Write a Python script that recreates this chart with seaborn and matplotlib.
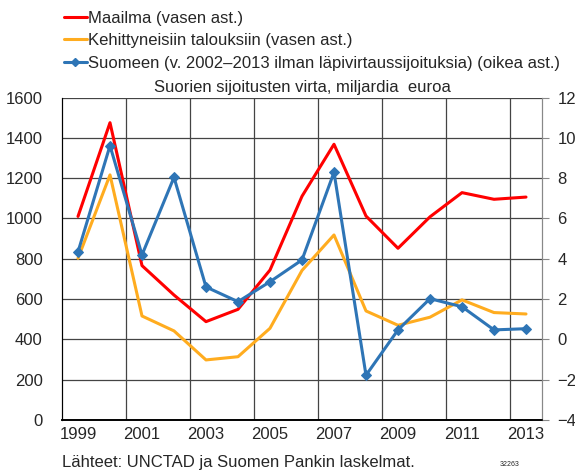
import numpy as np
import pandas as pd
import seaborn as sns
import matplotlib.pyplot as plt
from matplotlib.lines import Line2D

years = list(range(1999, 2014))
maailma = [1010, 1475, 766, 620, 488, 549, 744, 1110, 1368, 1012, 852, 1008, 1128, 1095, 1106]
kehittyneet = [802, 1216, 516, 442, 298, 314, 455, 742, 918, 541, 470, 510, 596, 533, 526]
suomeen = [4.34, 9.61, 4.19, 8.04, 2.60, 1.87, 2.86, 3.94, 8.29, -1.78, 0.47, 2.02, 1.62, 0.47, 0.53]

labels = ["Maailma (vasen ast.)",
          "Kehittyneisiin talouksiin (vasen ast.)",
          "Suomeen (v. 2002\u20132013 ilman läpivirtaussijoituksia) (oikea ast.)"]
colors = ["#ff0000", "#ffac1f", "#2e75b6"]

sns.set_style("white")
plt.rcParams['font.family'] = ['Liberation Sans', 'DejaVu Sans']
plt.rcParams['font.size'] = 12

df = pd.DataFrame({"idx": np.arange(len(years)), "maailma": maailma,
                   "kehittyneet": kehittyneet, "suomeen": suomeen})

fig = plt.figure(figsize=(5.75, 4.74), dpi=100)
ax = fig.add_axes([62/575, 1 - 420/474, 480/575, 322.5/474])
ax2 = ax.twinx()

sns.lineplot(data=df, x="idx", y="maailma", ax=ax, color=colors[0], lw=2.2)
sns.lineplot(data=df, x="idx", y="kehittyneet", ax=ax, color=colors[1], lw=2.2)
sns.lineplot(data=df, x="idx", y="suomeen", ax=ax2, color=colors[2], lw=2.2,
             marker="D", markersize=5, markeredgecolor=colors[2])

ax.set_xlim(-0.5, len(years) - 0.5)
ax.set_ylim(0, 1600)
ax2.set_ylim(-4, 12)
ax.set_yticks(range(0, 1601, 200))
ax2.set_yticks(range(-4, 13, 2))
ax.set_xticks(range(0, len(years), 2))
ax.set_xticklabels([str(y) for y in years[::2]])
ax.set_xticks(np.arange(0.5, len(years) - 1, 2), minor=True)
ax.tick_params(axis="x", which="major", length=0, pad=5, labelsize=12)
ax.tick_params(axis="x", which="minor", direction="in", length=5, color="#555555")
ax.tick_params(axis="y", length=0, pad=14, labelsize=12)
ax2.tick_params(axis="y", length=5, direction="out", color="#888888", pad=6, labelsize=12)
ax.set_xlabel("")
ax.set_ylabel("")
ax2.set_ylabel("")

for v in range(0, 1601, 200):
    ax.axhline(v, color="#444444", lw=0.9, zorder=0)
for b in np.arange(1.5, len(years) - 1, 2):
    ax.axvline(b, color="#444444", lw=0.9, zorder=0)

for a in (ax, ax2):
    a.spines["top"].set_visible(False)
    a.spines["left"].set_color("black")
    a.spines["bottom"].set_color("black")
    a.spines["right"].set_color("#888888")
    a.spines["bottom"].set_linewidth(1.2)

ax.set_title("Suorien sijoitusten virta, miljardia  euroa", fontsize=12, pad=4)

handles = [Line2D([], [], color=colors[0], lw=2.2),
           Line2D([], [], color=colors[1], lw=2.2),
           Line2D([], [], color=colors[2], lw=2.2, marker="D", markersize=4)]
fig.legend(handles, labels, loc="upper left", bbox_to_anchor=(64/575, 1 - 11/474),
           frameon=False, fontsize=12, handlelength=1.35, handletextpad=0.06,
           labelspacing=0.44, borderaxespad=0, borderpad=0)

fig.text(62/575, 1 - 462/474, "Lähteet: UNCTAD ja Suomen Pankin laskelmat.",
         fontsize=12, va="center", ha="left")
fig.text(510/575, 1 - 465/474, "32263", fontsize=5, va="center", ha="center")

fig.savefig("out.png", dpi=100)
